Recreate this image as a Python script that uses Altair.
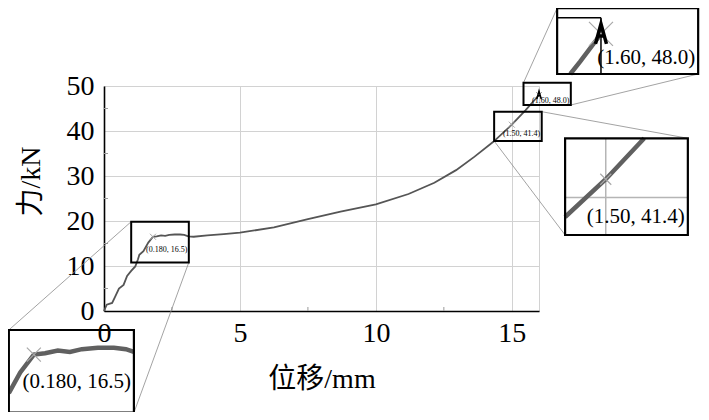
import altair as alt
import pandas as pd

# ---------------- data ----------------
disp = [0.0, 0.1, 0.3, 0.42, 0.55, 0.72, 0.85, 1.0, 1.15, 1.25, 1.3, 1.45, 1.63, 1.8,
        1.94, 2.1, 2.25, 2.4, 2.6, 2.8, 2.95, 3.1, 3.3, 3.8, 4.4, 5.0, 6.25, 7.5, 8.7,
        10.0, 11.2, 12.15, 12.95, 13.63, 14.32, 15.0, 15.5, 16.0]
force = [0.0, 1.4, 1.8, 3.3, 5.0, 5.8, 7.8, 8.9, 9.9, 11.5, 12.5, 13.3, 15.2, 16.5,
         16.6, 16.8, 16.7, 16.9, 17.0, 17.0, 16.9, 16.6, 16.5, 16.8, 17.1, 17.4, 18.6, 20.4, 22.1,
         23.7, 26.0, 28.5, 31.3, 34.3, 37.6, 41.4, 44.6, 48.0]

x_ticks = [0, 5, 10, 15]
y_ticks = [0, 10, 20, 30, 40, 50]
x_minor = [2.5, 7.5, 12.5]
y_minor = [5, 15, 25, 35, 45]

mark_names = ["A", "C", "B"]
mark_labels = ["(0.180, 16.5)", "(1.50, 41.4)", "(1.60, 48.0)"]
mark_x = [1.8, 15.0, 16.0]
mark_y = [16.5, 41.4, 48.0]

# ---------------- inset layout (data units) ----------------
INSETS = {
    "A": dict(small=(1.0, 3.12, 10.8, 19.85), win=(1.4875, 3.05, 12.26, 18.3),
              box=(-3.50, 1.10, -22.6, -4.22), small_frac=0.30, big_frac=0.375,
              corners=[("x0", "y1"), ("x1", "y0")], grid=[], gridcolor="#000000",
              cross=196, crossw=1.2),
    "C": dict(small=(14.35, 16.10, 37.78, 44.29), win=(14.485, 16.04, 37.15, 44.52),
              box=(16.96, 21.475, 16.89, 38.38), small_frac=0.23, big_frac=0.19,
              corners=[("x1", "y1"), ("x0", "y0")],
              grid=[(15, -100, 15, 100), (-100, 40, 100, 40)], gridcolor="#b5b5b5",
              cross=121, crossw=1.2),
    "B": dict(small=(15.43, 17.17, 45.78, 50.73), win=(14.94, 18.35, 43.05, 51.18),
              box=(16.667, 21.854, 52.67, 67.3), small_frac=0.19, big_frac=0.24,
              corners=[("x0", "y1"), ("x1", "y0")],
              grid=[(-100, 50, 16, 50), (16, -100, 16, 50)], gridcolor="#000000",
              cross=576, crossw=1.2),
}

SERIF = "Liberation Serif"
CJK = "Liberation Serif, Noto Sans CJK SC"
CROSS = "M-1,-1L1,1M-1,1L1,-1"
ARROW = "M-0.55,1L0,-1L0.55,1M-0.3,0.2L0.3,0.2"


def lb(xa, ya, xb, yb, x0, x1, y0, y1):
    dx, dy = xb - xa, yb - ya
    t0, t1 = 0.0, 1.0
    for p, q in ((-dx, xa - x0), (dx, x1 - xa), (-dy, ya - y0), (dy, y1 - ya)):
        if p == 0:
            if q < 0:
                return None
        else:
            t = q / p
            if p < 0:
                t0 = max(t0, t)
            else:
                t1 = min(t1, t)
    if t0 > t1:
        return None
    return (xa + t0 * dx, ya + t0 * dy, xa + t1 * dx, ya + t1 * dy)


def to_box(x, y, win, box):
    wx0, wx1, wy0, wy1 = win
    bx0, bx1, by0, by1 = box
    return (bx0 + (x - wx0) / (wx1 - wx0) * (bx1 - bx0),
            by0 + (y - wy0) / (wy1 - wy0) * (by1 - by0))


main_df = pd.DataFrame({"x": disp, "y": force})

rows_line, rows_box_s, rows_box_b, rows_conn, rows_grid = [], [], [], [], []
rows_cross, rows_text, rows_arrow = [], [], []
for name, cfg in INSETS.items():
    win, box, sm = cfg["win"], cfg["box"], cfg["small"]
    pts = []
    for i in range(len(disp) - 1):
        r = lb(disp[i], force[i], disp[i + 1], force[i + 1], *win)
        if r is None:
            continue
        a, b = (r[0], r[1]), (r[2], r[3])
        if not pts or (abs(pts[-1][0] - a[0]) > 1e-9 or abs(pts[-1][1] - a[1]) > 1e-9):
            pts.append(a)
        pts.append(b)
    for k, (px, py) in enumerate(pts):
        bx, by = to_box(px, py, win, box)
        rows_line.append({"x": bx, "y": by, "o": k, "inset": name})
    for (gx0, gy0, gx1, gy1) in cfg["grid"]:
        r = lb(gx0, gy0, gx1, gy1, *win)
        if r is None:
            continue
        ax, ay = to_box(r[0], r[1], win, box)
        bx, by = to_box(r[2], r[3], win, box)
        rows_grid.append({"x": ax, "y": ay, "x2": bx, "y2": by, "c": cfg["gridcolor"]})
    rows_box_s.append({"x": sm[0], "x2": sm[1], "y": sm[2], "y2": sm[3]})
    rows_box_b.append({"x": box[0], "x2": box[1], "y": box[2], "y2": box[3]})
    sd = {"x0": sm[0], "x1": sm[1], "y0": sm[2], "y1": sm[3]}
    bd = {"x0": box[0], "x1": box[1], "y0": box[2], "y1": box[3]}
    for cx, cy in cfg["corners"]:
        rows_conn.append({"x": sd[cx], "y": sd[cy], "x2": bd[cx], "y2": bd[cy]})
    idx = mark_names.index(name)
    mx, my = mark_x[idx], mark_y[idx]
    bx, by = to_box(mx, my, win, box)
    rows_cross.append({"x": mx, "y": my, "s": 36, "w": 1.0})
    rows_cross.append({"x": bx, "y": by, "s": cfg["cross"], "w": cfg["crossw"]})
    if name == "B":
        rows_arrow.append({"x": mx, "y": my, "s": 64, "w": 1.5})
        rows_arrow.append({"x": bx, "y": by, "s": 400, "w": 3.5})
    rows_text.append({"x": sm[1], "y": sm[2] + cfg["small_frac"] * (sm[3] - sm[2]),
                      "t": mark_labels[idx], "fs": 8})
    rows_text.append({"x": box[1], "y": box[2] + cfg["big_frac"] * (box[3] - box[2]),
                      "t": mark_labels[idx], "fs": 21})

xs = alt.Scale(domain=[0, 16], nice=False, zero=False)
ys = alt.Scale(domain=[0, 50], nice=False, zero=False)
xaxis = alt.Axis(values=x_ticks, grid=True, gridColor="#d2d2d2", ticks=False,
                 domainColor="#000000", domainWidth=1.6, labelFont=SERIF, labelFontSize=28,
                 labelColor="#000000", labelPadding=8, labelFlush=False,
                 titleFont=CJK, titleFontSize=28, titleFontWeight="normal",
                 titleColor="#000000", titlePadding=18)
yaxis = alt.Axis(values=y_ticks, grid=True, gridColor="#d2d2d2", ticks=False,
                 domainColor="#000000", domainWidth=1.6, labelFont=SERIF, labelFontSize=28,
                 labelColor="#000000", labelPadding=10, labelFlush=False,
                 titleFont=CJK, titleFontSize=28, titleFontWeight="normal",
                 titleColor="#000000", titlePadding=21, titleY=95)
X = alt.X("x:Q", scale=xs, axis=xaxis, title="位移/mm")
Y = alt.Y("y:Q", scale=ys, axis=yaxis, title="力/kN")

main = alt.Chart(main_df).mark_line(color="#555555", strokeWidth=1.8).encode(x=X, y=Y)

ymin_df = pd.DataFrame({"y": y_minor})
xmin_df = pd.DataFrame({"x": x_minor})
ytick = alt.Chart(ymin_df).mark_rule(color="#9a9a9a").encode(
    y=Y, x=alt.value(0), x2=alt.value(4))
xtick = alt.Chart(xmin_df).mark_rule(color="#9a9a9a").encode(
    x=X, y=alt.value(225), y2=alt.value(221))

conn = alt.Chart(pd.DataFrame(rows_conn)).mark_rule(color="#8c8c8c", strokeWidth=0.8).encode(
    x=X, y=Y, x2="x2:Q", y2="y2:Q")
grid = alt.Chart(pd.DataFrame(rows_grid)).mark_rule(strokeWidth=1.5).encode(
    x=X, y=Y, x2="x2:Q", y2="y2:Q", color=alt.Color("c:N", scale=None))
iline = alt.Chart(pd.DataFrame(rows_line)).mark_line(color="#606060", strokeWidth=4.5).encode(
    x=X, y=Y, detail="inset:N", order="o:Q")
cross = alt.Chart(pd.DataFrame(rows_cross)).mark_point(
    shape=CROSS, filled=False, color="#a8a8a8", opacity=1).encode(
    x=X, y=Y, size=alt.Size("s:Q", scale=None), strokeWidth=alt.StrokeWidth("w:Q", scale=None))
arrow = alt.Chart(pd.DataFrame(rows_arrow)).mark_point(
    shape=ARROW, filled=False, color="#000000", opacity=1).encode(
    x=X, y=Y, size=alt.Size("s:Q", scale=None), strokeWidth=alt.StrokeWidth("w:Q", scale=None))
sbox = alt.Chart(pd.DataFrame(rows_box_s)).mark_rect(
    fill=None, stroke="#000000", strokeWidth=2).encode(x=X, x2="x2:Q", y=Y, y2="y2:Q")
bbox = alt.Chart(pd.DataFrame(rows_box_b)).mark_rect(
    fill=None, stroke="#000000", strokeWidth=2.2).encode(x=X, x2="x2:Q", y=Y, y2="y2:Q")

tdf = pd.DataFrame(rows_text)
text_s = alt.Chart(tdf[tdf.fs == 8]).mark_text(
    align="right", baseline="middle", font=SERIF, fontSize=8, dx=-1.5, color="#000000").encode(
    x=X, y=Y, text="t:N")
text_b = alt.Chart(tdf[tdf.fs == 21]).mark_text(
    align="right", baseline="middle", font=SERIF, fontSize=21, dx=-3, color="#000000").encode(
    x=X, y=Y, text="t:N")

chart = alt.layer(main, ytick, xtick, conn, grid, iline, cross, arrow, sbox, bbox,
                  text_s, text_b).properties(
    width=435, height=225,
    autosize=alt.AutoSizeParams(type="none"),
    padding={"left": 96, "top": 78, "right": 162, "bottom": 101},
).configure_view(stroke="#d2d2d2", strokeWidth=1)

chart.save("out.html", embed_options={"renderer": "svg", "actions": False})
